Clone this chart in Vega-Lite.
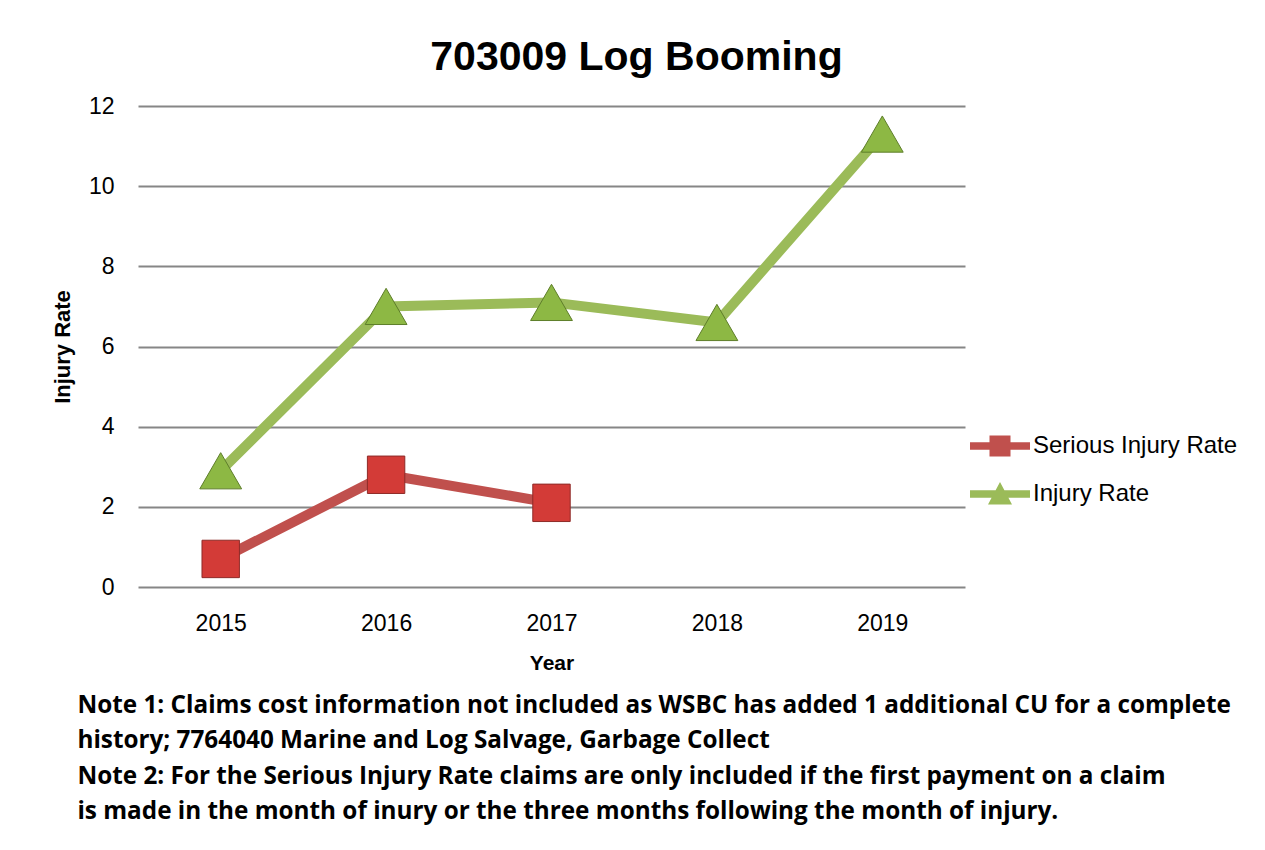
{
  "$schema": "https://vega.github.io/schema/vega-lite/v6.json",
  "padding": {"left": 51, "top": 37, "right": 5, "bottom": 5},
  "background": "white",
  "config": {
    "font": "Liberation Sans",
    "view": {"stroke": null},
    "axis": {"labelColor": "#000000", "titleColor": "#000000"}
  },
  "title": {
    "text": [
      "Note 1:  Claims cost information not included as WSBC has added 1 additional CU for a complete",
      "history; 7764040 Marine and Log Salvage, Garbage Collect",
      "Note 2:  For the Serious Injury Rate claims are only included if the first payment on a claim",
      "is made in the month of inury or the three months following the month of injury."
    ],
    "orient": "bottom",
    "anchor": "start",
    "frame": "bounds",
    "dx": 26,
    "offset": 21,
    "font": "Open Sans",
    "fontSize": 24.3,
    "fontWeight": "bold",
    "lineHeight": 35.3,
    "color": "#000000"
  },
  "vconcat": [
    {
      "title": {
        "text": "703009 Log Booming",
        "fontSize": 41,
        "fontWeight": "bold",
        "anchor": "middle",
        "frame": "group",
        "dx": 85,
        "offset": 16,
        "color": "#000000"
      },
      "width": 827,
      "height": 481,
      "data": {
        "values": [
          {"Year": "2015", "Series": "Serious Injury Rate", "Value": 0.7},
          {"Year": "2016", "Series": "Serious Injury Rate", "Value": 2.8},
          {"Year": "2017", "Series": "Serious Injury Rate", "Value": 2.1},
          {"Year": "2015", "Series": "Injury Rate", "Value": 2.9},
          {"Year": "2016", "Series": "Injury Rate", "Value": 7.0},
          {"Year": "2017", "Series": "Injury Rate", "Value": 7.1},
          {"Year": "2018", "Series": "Injury Rate", "Value": 6.6},
          {"Year": "2019", "Series": "Injury Rate", "Value": 11.3}
        ]
      },
      "encoding": {
        "x": {
          "field": "Year",
          "type": "ordinal",
          "scale": {"type": "point", "padding": 0.5},
          "axis": {
            "title": "Year",
            "labelAngle": 0,
            "ticks": false,
            "domain": false,
            "labelPadding": 25,
            "titlePadding": 17,
            "labelFontSize": 23,
            "titleFontSize": 21,
            "titleFontWeight": "bold"
          }
        },
        "y": {
          "field": "Value",
          "type": "quantitative",
          "scale": {"domain": [0, 12], "nice": false},
          "axis": {
            "title": "Injury Rate",
            "values": [0, 2, 4, 6, 8, 10, 12],
            "grid": true,
            "gridColor": "#868686",
            "gridWidth": 2,
            "domain": false,
            "ticks": false,
            "labelPadding": 24,
            "labelFontSize": 23,
            "titleFontSize": 22,
            "titleFontWeight": "bold",
            "titlePadding": 14
          }
        }
      },
      "layer": [
        {
          "mark": {"type": "line", "strokeWidth": 10},
          "encoding": {
            "color": {
              "field": "Series",
              "type": "nominal",
              "scale": {"domain": ["Serious Injury Rate", "Injury Rate"], "range": ["#C0504D", "#9BBB59"]},
              "legend": {
                "title": null,
                "orient": "none",
                "legendX": 847,
                "legendY": 325,
                "padding": 0,
                "symbolSize": 900,
                "labelOffset": 18,
                "rowPadding": 21,
                "labelFontSize": 24,
                "labelColor": "#000000",
                "labelLimit": 400,
                "encode": {
                  "symbols": {
                    "update": {
                      "shape": {"signal": "datum.value === 'Serious Injury Rate' ? 'M-2,-0.25H2V0.25H-2Z M-0.7,-0.7H0.7V0.7H-0.7Z' : 'M-2,-0.25H2V0.25H-2Z M0,-0.8L0.8,0.7H-0.8Z'"},
                      "fill": {"scale": "color", "field": "value"},
                      "stroke": {"value": "transparent"},
                      "strokeWidth": {"value": 0},
                      "opacity": {"value": 1}
                    }
                  }
                }
              }
            }
          }
        },
        {
          "transform": [{"filter": "datum.Series === 'Serious Injury Rate'"}],
          "mark": {"type": "point", "shape": "square", "filled": true, "size": 1400, "fill": "#D33B37", "stroke": "#8E2B28", "strokeWidth": 1, "opacity": 1}
        },
        {
          "transform": [{"filter": "datum.Series === 'Injury Rate'"}],
          "mark": {"type": "point", "shape": "triangle-up", "filled": true, "size": 1750, "fill": "#8DB844", "stroke": "#5E7E2A", "strokeWidth": 1, "opacity": 1}
        }
      ]
    }
  ]
}
